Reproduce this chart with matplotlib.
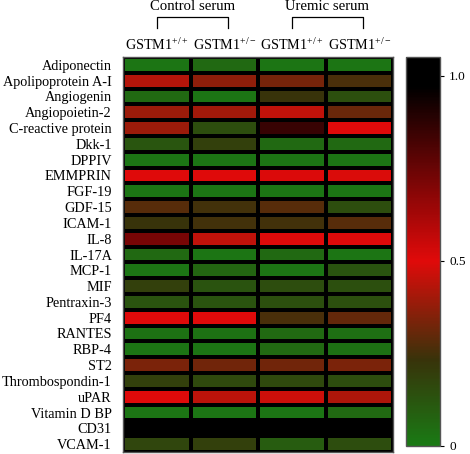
import matplotlib
matplotlib.use('Agg')
import matplotlib.pyplot as plt
import matplotlib.transforms as mtransforms
from matplotlib.colors import LinearSegmentedColormap
import numpy as np

plt.rcParams['font.family'] = 'Liberation Serif'
plt.rcParams['mathtext.fontset'] = 'custom'
plt.rcParams['mathtext.rm'] = 'Liberation Serif'
plt.rcParams['mathtext.it'] = 'Liberation Serif:italic'

###############################################################################
# Data
###############################################################################

proteins = ['Adiponectin', 'Apolipoprotein A-I', 'Angiogenin', 'Angiopoietin-2',
            'C-reactive protein', 'Dkk-1', 'DPPIV', 'EMMPRIN', 'FGF-19', 'GDF-15',
            'ICAM-1', 'IL-8', 'IL-17A', 'MCP-1', 'MIF', 'Pentraxin-3', 'PF4',
            'RANTES', 'RBP-4', 'ST2', 'Thrombospondin-1', 'uPAR', 'Vitamin D BP',
            'CD31', 'VCAM-1']

columns = ['GSTM1$^{+/+}$', 'GSTM1$^{+/-}$', 'GSTM1$^{+/+}$', 'GSTM1$^{+/-}$']
groups = ['Control serum', 'Uremic serum']

ctrl_wt = [0.02, 0.43, 0.06, 0.39, 0.39, 0.12, 0.02, 0.50, 0.02, 0.28, 0.23, 0.72, 0.06,
           0.02, 0.19, 0.13, 0.50, 0.03, 0.02, 0.34, 0.19, 0.50, 0.02, 1.00, 0.17]
ctrl_het = [0.06, 0.37, 0.02, 0.40, 0.15, 0.19, 0.02, 0.50, 0.02, 0.25, 0.25, 0.45, 0.02,
            0.07, 0.13, 0.13, 0.50, 0.03, 0.02, 0.32, 0.16, 0.44, 0.02, 0.98, 0.19]
urem_wt = [0.02, 0.33, 0.23, 0.45, 0.85, 0.06, 0.02, 0.51, 0.02, 0.28, 0.25, 0.50, 0.06,
           0.02, 0.15, 0.14, 0.26, 0.06, 0.06, 0.32, 0.16, 0.47, 0.02, 1.00, 0.10]
urem_het = [0.02, 0.26, 0.14, 0.31, 0.50, 0.06, 0.02, 0.49, 0.02, 0.15, 0.28, 0.50, 0.02,
            0.13, 0.14, 0.14, 0.30, 0.04, 0.03, 0.34, 0.15, 0.42, 0.06, 1.00, 0.15]

values = np.array([ctrl_wt, ctrl_het, urem_wt, urem_het]).T

###############################################################################
# Colormap: green -> dark -> red -> black
###############################################################################

vmax = 1.05
cmap = LinearSegmentedColormap.from_list('grb', [
    (0.0, (0.10, 0.48, 0.08)),
    (0.22, (0.22, 0.20, 0.04)),
    (0.5 / vmax, (0.88, 0.04, 0.04)),
    (0.97 / vmax, (0.0, 0.0, 0.0)),
    (1.0, (0.0, 0.0, 0.0))])

W, H = 470, 454
fig = plt.figure(figsize=(W / 100, H / 100), dpi=100)

top, bot = 57, 452
ax = fig.add_axes([123 / W, (H - bot) / H, 270 / W, (bot - top) / H])
cbot = 446
cax = fig.add_axes([406 / W, (H - cbot) / H, 34 / W, (cbot - top) / H])

mesh = ax.pcolormesh(values, cmap=cmap, vmin=0, vmax=vmax,
                     edgecolors='black', linewidth=1.6)
ax.set_xlim(0, 4)
ax.set_ylim(len(proteins), 0)
ax.set_yticks(np.arange(len(proteins)) + 0.5)
ax.set_yticklabels(proteins, fontsize=10.3)
ax.set_xticks([])
ax.tick_params(axis='y', length=0, pad=8)
for s in ax.spines.values():
    s.set_color('#555555')
    s.set_linewidth(1)

# column and group headers
trans = mtransforms.blended_transform_factory(ax.transData, ax.transAxes)
for j, lab in enumerate(columns):
    ax.text(j + 0.5, 1.03, lab, transform=trans, ha='center', va='center',
            fontsize=10.2)
for g, name in enumerate(groups):
    x0, x1 = 2 * g + 0.5, 2 * g + 1.55
    ax.plot([x0, x0, x1, x1], [1.073, 1.101, 1.101, 1.073], color='black',
            lw=0.9, transform=trans, clip_on=False)
    ax.text((x0 + x1) / 2, 1.127, name, transform=trans, ha='center',
            va='center', fontsize=10.6)

cb = fig.colorbar(mesh, cax=cax)
cb.set_ticks([0, 0.5, 1.0])
cb.set_ticklabels(['0', '0.5', '1.0'])
cb.ax.tick_params(labelsize=9.5, length=3, width=0.8)
cb.outline.set_edgecolor('#555555')
cb.outline.set_linewidth(1)

fig.savefig('out.png', dpi=100)
